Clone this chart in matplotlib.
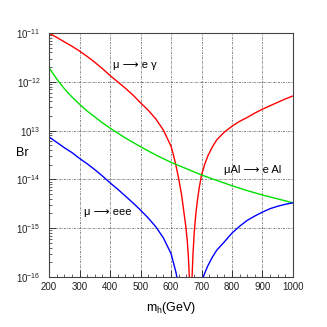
import numpy as np
import matplotlib
matplotlib.use("Agg")
import matplotlib.pyplot as plt
from matplotlib.ticker import MultipleLocator, LogLocator, NullFormatter, FixedLocator

plt.rcParams['font.family'] = ['Liberation Sans', 'DejaVu Sans']
plt.rcParams['mathtext.fontset'] = 'custom'
plt.rcParams['mathtext.rm'] = 'Liberation Sans'
plt.rcParams['mathtext.it'] = 'Liberation Sans:italic'

# mu -> e gamma (log10 Br)
m_meg = [200, 225, 250, 275, 300, 325, 350, 375, 400, 425, 450, 475, 500, 525, 550, 575, 600,
         608, 616, 625, 635, 642, 648, 653, 657, 660, 662, 663.5, 664.5, 665.5, 667, 669, 672,
         676, 681, 686, 692, 700, 710, 720, 735, 750, 775, 800, 825, 850, 875, 900, 925, 950,
         975, 1000]
br_meg = [-11.00, -11.09, -11.18, -11.27, -11.37, -11.48, -11.60, -11.73, -11.87, -12.00, -12.13,
          -12.27, -12.43, -12.58, -12.76, -12.99, -13.32, -13.50, -13.71, -13.98, -14.33, -14.66,
          -14.94, -15.24, -15.59, -16.00, -16.52, -17.3, -18.0, -17.4, -16.52, -16.00, -15.54,
          -15.10, -14.73, -14.46, -14.19, -13.91, -13.70, -13.53, -13.34, -13.19, -13.03, -12.91,
          -12.81, -12.73, -12.64, -12.56, -12.49, -12.42, -12.35, -12.29]

# mu Al -> e Al
m_mue = [200, 225, 250, 275, 300, 325, 350, 375, 400, 450, 500, 550, 600, 650, 700, 750, 800,
         850, 900, 950, 1000]
br_mue = [-11.71, -11.94, -12.14, -12.31, -12.46, -12.60, -12.72, -12.84, -12.95, -13.15, -13.33,
          -13.50, -13.65, -13.78, -13.91, -14.02, -14.13, -14.23, -14.32, -14.40, -14.48]

# mu -> eee
m_m3e = [200, 225, 250, 275, 300, 325, 350, 375, 400, 425, 450, 475, 500, 525, 550, 575, 600,
         616, 625, 635, 692, 700, 710, 720, 735, 750, 775, 800, 825, 850, 875, 900, 925, 950,
         975, 1000]
br_m3e = [-13.13, -13.24, -13.35, -13.45, -13.57, -13.68, -13.80, -13.93, -14.07, -14.20, -14.34,
          -14.48, -14.63, -14.79, -14.97, -15.20, -15.52, -15.90, -16.18, -16.55, -16.40, -16.10,
          -15.93, -15.78, -15.60, -15.45, -15.28, -15.10, -14.96, -14.84, -14.75, -14.67, -14.60,
          -14.55, -14.51, -14.48]

ytick_vals = [1e-16, 1e-15, 1e-14, 1e-13, 1e-12, 1e-11]
ytick_labels = [r'$\mathregular{10^{-16}}$', r'$\mathregular{10^{-15}}$', r'$\mathregular{10^{-14}}$',
                r'$\mathregular{10^{13}}$', r'$\mathregular{10^{-12}}$', r'$\mathregular{10^{-11}}$']

fig = plt.figure(figsize=(3.27, 3.27), dpi=100)
ax = fig.add_axes([0.150, 0.153, 0.746, 0.746])

lw = 1.0
ax.plot(m_meg, 10 ** np.array(br_meg), color='#ff0000', lw=lw)
ax.plot(m_mue, 10 ** np.array(br_mue), color='#00e000', lw=lw)
ax.plot(m_m3e, 10 ** np.array(br_m3e), color='#0000ff', lw=lw)

ax.set_yscale('log')
ax.set_xlim(200, 1000)
ax.set_ylim(1e-16, 1e-11)

ax.xaxis.set_major_locator(MultipleLocator(100))
ax.xaxis.set_minor_locator(MultipleLocator(25))
ax.yaxis.set_major_locator(FixedLocator(ytick_vals))
ax.set_yticklabels(ytick_labels)
ax.yaxis.set_minor_locator(LogLocator(base=10, subs=np.arange(2, 10)))
ax.yaxis.set_minor_formatter(NullFormatter())

ax.tick_params(which='both', direction='in', top=False, right=False, labelsize=7, colors='#222222')
ax.tick_params(which='major', length=5, width=0.6)
ax.tick_params(which='minor', length=2.5, width=0.5)
ax.tick_params(axis='y', pad=6)
for s in ax.spines.values():
    s.set_linewidth(0.8)
    s.set_color('#444444')

ax.grid(True, which='major', color='#555555', linestyle=(0, (3, 1.5, 1, 1.5)), lw=0.5)

ax.text(482, 10 ** -11.66, 'μ ⟶ e γ', fontsize=8, ha='center', va='center')
ax.text(869, 10 ** -13.81, 'μAl ⟶ e Al', fontsize=8, ha='center', va='center')
ax.text(393, 10 ** -14.67, 'μ ⟶ eee', fontsize=8, ha='center', va='center')

fig.text(22 / 327, 1 - 153 / 327, 'Br', fontsize=9, ha='center', va='center')
ax.set_xlabel(r'm$_\mathregular{h}$(GeV)', fontsize=9, labelpad=6)

fig.savefig('out.png', dpi=100)
